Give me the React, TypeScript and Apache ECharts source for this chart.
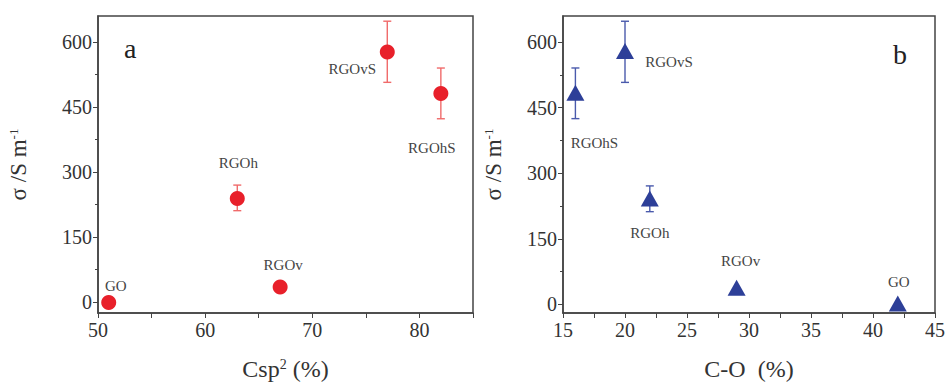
import React, { useEffect, useRef } from "react";
import * as echarts from "echarts";

// Data (same samples in both panels)
const sampleNames = ["GO", "RGOh", "RGOv", "RGOvS", "RGOhS"];
const csp2 = [51, 63, 67, 77, 82];
const cO = [42, 22, 29, 20, 16];
const sigmaA = [-1, 239, 35, 577, 481];
const sigmaB = [2, 242, 38, 580, 484];
const errLowA = [null, 211, null, 507, 423];
const errHighA = [null, 270, null, 648, 540];
const errLowB = [null, 212, 28, 508, 425];
const errHighB = [null, 271, null, 648, 541];
const yTicks = [0, 150, 300, 450, 600];
const yMinorTicks = [75, 225, 375, 525];
const xTicksA = [50, 60, 70, 80];
const xMinorTicksA = [55, 65, 75, 85];
const xTicksB = [15, 20, 25, 30, 35, 40, 45];
const xMinorTicksB = [17.5, 22.5, 27.5, 32.5, 37.5, 42.5];

// label offsets (styling)
const labelOffsetA: Record<string, number[]> = {
  GO: [7, -17],
  RGOh: [1, -36],
  RGOv: [3, -22],
  RGOvS: [-35, 17],
  RGOhS: [-9, 54],
};
const labelOffsetB: Record<string, number[]> = {
  GO: [1, -21],
  RGOh: [0, 34],
  RGOv: [4, -27],
  RGOvS: [44, 11],
  RGOhS: [19, 50],
};

const FONT = "Liberation Serif";
const RED = "#e8202a";
const RED_ERR = "#f06a6a";
const BLUE = "#2d3f98";
const BLUE_ERR = "#4a5aac";
const AXIS = "#444";

export default function App() {
  const ref = useRef<HTMLDivElement>(null);
  useEffect(() => {
    if (!ref.current) return;
    const chart = echarts.init(ref.current, undefined, { renderer: "svg" });

    const mkErr = (xs: number[], lo: (number | null)[], hi: (number | null)[], color: string, xi: number) => ({
      type: "custom",
      xAxisIndex: xi,
      yAxisIndex: xi * 2,
      z: 1,
      data: xs.map((x, i) => [x, lo[i] ?? NaN, hi[i] ?? NaN]),
      renderItem: (params: any, api: any) => {
        const x = api.value(0);
        const lo = api.value(1);
        const hi = api.value(2);
        if (isNaN(lo) && isNaN(hi)) return null;
        const children: any[] = [];
        const style = { stroke: color, lineWidth: 1.4 };
        const w = 4;
        const pts: number[][] = [];
        if (!isNaN(hi)) pts.push(api.coord([x, hi]));
        if (!isNaN(lo)) pts.push(api.coord([x, lo]));
        if (pts.length === 2) {
          children.push({ type: "line", shape: { x1: pts[0][0], y1: pts[0][1], x2: pts[1][0], y2: pts[1][1] }, style });
        }
        pts.forEach((p) => {
          children.push({ type: "line", shape: { x1: p[0] - w, y1: p[1], x2: p[0] + w, y2: p[1] }, style });
        });
        return { type: "group", children };
      },
    });

    const mkScatter = (xs: number[], ys: number[], color: string, symbol: string, size: any, offsets: Record<string, number[]>, xi: number) => ({
      type: "scatter",
      xAxisIndex: xi,
      yAxisIndex: xi * 2,
      symbol,
      symbolSize: size,
      z: 3,
      itemStyle: { color, opacity: 1 },
      data: xs.map((x, i) => ({
        value: [x, ys[i]],
        name: sampleNames[i],
        label: {
          show: true,
          position: "inside",
          offset: offsets[sampleNames[i]],
          formatter: sampleNames[i],
          color: "#444444",
          textBorderWidth: 0,
          fontFamily: FONT,
          fontSize: 15,
        },
      })),
    });

    const gridCommon = { top: 16, height: 301, show: true, borderColor: AXIS, borderWidth: 1.5, backgroundColor: "transparent" };

    const yMain = (gi: number) => ({
      type: "value",
      gridIndex: gi,
      min: gi === 0 ? -25 : -20,
      max: 660,
      name: "{n|σ /S m}{s|-1}",
      nameLocation: "middle",
      nameGap: gi === 0 ? 68 : 58,
      nameTextStyle: {
        rich: {
          n: { fontFamily: FONT, fontSize: 23, color: "#333" },
          s: { fontFamily: FONT, fontSize: 13, color: "#333", verticalAlign: "top", padding: [0, 0, 10, 0] },
        },
      },
      splitLine: { show: false },
      axisLine: { show: true, onZero: false, lineStyle: { color: AXIS, width: 1.5 } },
      axisTick: { show: true, inside: false, length: 5, customValues: yTicks, lineStyle: { color: AXIS } },
      axisLabel: { customValues: yTicks, fontFamily: FONT, fontSize: 20, color: "#333", margin: 6 },
    });
    const yMinor = (gi: number) => ({
      type: "value",
      gridIndex: gi,
      min: gi === 0 ? -25 : -20,
      max: 660,
      position: "left",
      splitLine: { show: false },
      axisLine: { show: false },
      axisTick: { show: true, inside: false, length: 3, customValues: yMinorTicks, lineStyle: { color: AXIS } },
      axisLabel: { show: false },
    });

    const option: any = {
      animation: false,
      backgroundColor: "#fff",
      grid: [
        { ...gridCommon, left: 98, width: 375 },
        { ...gridCommon, left: 563, width: 374 },
      ],
      xAxis: [
        {
          type: "value",
          gridIndex: 0,
          min: 50,
          max: 85,
          name: "{n|Csp}{s|2}{n| (%)}",
          nameLocation: "middle",
          nameGap: 44,
          nameTextStyle: {
            rich: {
              n: { fontFamily: FONT, fontSize: 24, color: "#333" },
              s: { fontFamily: FONT, fontSize: 14, color: "#333", verticalAlign: "top", padding: [0, 0, 10, 0] },
            },
          },
          splitLine: { show: false },
          axisLine: { show: true, onZero: false, lineStyle: { color: AXIS, width: 1.5 } },
          axisTick: { show: true, length: 5, customValues: [...xTicksA, ...xMinorTicksA], lineStyle: { color: AXIS } },
          axisLabel: { customValues: xTicksA, fontFamily: FONT, fontSize: 20, color: "#333", margin: 7 },
        },
        {
          type: "value",
          gridIndex: 1,
          min: 15,
          max: 45,
          name: "C-O  (%)",
          nameLocation: "middle",
          nameGap: 44,
          nameTextStyle: { fontFamily: FONT, fontSize: 24, color: "#333" },
          splitLine: { show: false },
          axisLine: { show: true, onZero: false, lineStyle: { color: AXIS, width: 1.5 } },
          axisTick: { show: true, length: 5, customValues: [...xTicksB, ...xMinorTicksB], lineStyle: { color: AXIS } },
          axisLabel: { customValues: xTicksB, fontFamily: FONT, fontSize: 20, color: "#333", margin: 7 },
        },
      ],
      yAxis: [yMain(0), yMinor(0), yMain(1), yMinor(1)],
      graphic: [
        { type: "text", left: 124, top: 34, style: { text: "a", fontFamily: FONT, fontSize: 28, fill: "#222" } },
        { type: "text", left: 893, top: 40, style: { text: "b", fontFamily: FONT, fontSize: 28, fill: "#222" } },
      ],
      series: [
        mkErr(csp2, errLowA, errHighA, RED_ERR, 0),
        mkScatter(csp2, sigmaA, RED, "circle", 15, labelOffsetA, 0),
        mkErr(cO, errLowB, errHighB, BLUE_ERR, 1),
        mkScatter(cO, sigmaB, BLUE, "triangle", [18, 16], labelOffsetB, 1),
      ],
    };
    chart.setOption(option);
    return () => chart.dispose();
  }, []);
  return <div ref={ref} style={{ position: "fixed", left: 0, top: 0, width: 948, height: 386 }} />;
}
